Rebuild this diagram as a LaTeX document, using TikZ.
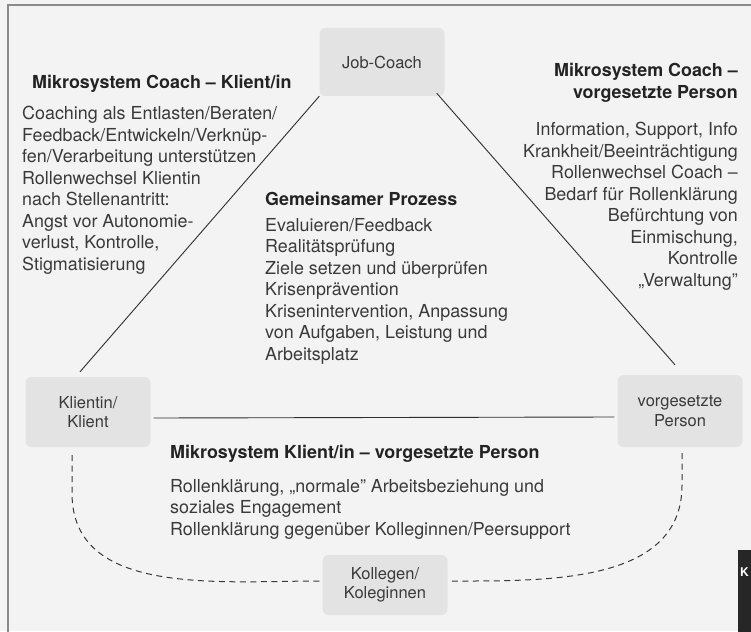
\documentclass[tikz,border=0pt]{standalone}
\usepackage{fontspec}
\setmainfont{TeX Gyre Heros}
\usetikzlibrary{positioning}

\definecolor{paper}{HTML}{F3F3F3}
\definecolor{boxgrey}{HTML}{E3E3E3}
\definecolor{inkgrey}{HTML}{3A3A3A}
\definecolor{headgrey}{HTML}{232323}
\definecolor{rulegrey}{HTML}{8A8A8A}

\newcommand\bodyfont{\fontsize{17.9}{21.5}\selectfont}
\newcommand\headfont{\fontsize{17.9}{22}\selectfont\bfseries}
\newcommand\boxfont{\fontsize{16.5}{19.5}\selectfont}

\tikzset{
  person/.style={fill=boxgrey, rounded corners=6pt, minimum width=125pt,
    minimum height=68pt, align=center, font=\boxfont, text=inkgrey},
  heading/.style={font=\headfont, text=headgrey, inner sep=0pt},
  body/.style={font=\bodyfont, text=inkgrey, inner sep=0pt},
  link/.style={draw=black!82, line width=0.9pt},
  peer/.style={draw=black!78, line width=1pt, dash pattern=on 6pt off 4.5pt}
}

\begin{document}
\begin{tikzpicture}[x=1pt, y=-1pt]
  \useasboundingbox (0,0) rectangle (751,631);
  \clip (0,0) rectangle (751,631);
  \fill[paper] (0,0) rectangle (751,631);
  \draw[rulegrey, line width=1.6pt] (8,660) -- (8,5) -- (780,5);

  % the four persons
  \node[person] (jobcoach) at (382,62) {Job-Coach};
  \node[person, minimum height=70pt] (klientin) at (88,412) {Klientin/\\Klient};
  \node[person, minimum height=72pt] (chef) at (680,411) {vorgesetzte\\Person};
  \node[person, minimum height=60pt] (kollegen) at (385,585) {Kollegen/\\Koleginnen};

  % triangle
  \draw[link] (jobcoach.south west) -- ([xshift=-8pt, yshift=5pt]klientin.north);
  \draw[link] ([xshift=-8pt, yshift=3pt]jobcoach.south east) -- ([xshift=-5pt, yshift=10pt]chef.north);
  \draw[link] ([xshift=3pt, yshift=-6pt]klientin.east) -- ([xshift=-3pt, yshift=-6pt]chef.west);

  % colleagues, dashed
  \draw[peer] ([xshift=-16pt, yshift=-8pt]klientin.south) -- ++(0,38)
    to[out=-90, in=180] ([xshift=-1pt, yshift=4pt]kollegen.west);
  \draw[peer] ([xshift=2pt, yshift=-6pt]chef.south) -- ++(0,32)
    to[out=-90, in=0] ([xshift=1pt, yshift=4pt]kollegen.east);

  % Coach -- Klient/in
  \node[heading, anchor=base west] (coachklient) at (32,89) {Mikrosystem Coach -- Klient/in};
  \node[body, anchor=north west, align=left] (coachklienttext) at (22,106) {%
    Coaching als Entlasten/Beraten/\\
    Feedback/Entwickeln/Verknüp-\\
    fen/Verarbeitung unterstützen\\
    Rollenwechsel Klientin\\
    nach Stellenantritt:\\
    Angst vor Autonomie-\\
    verlust, Kontrolle,\\
    Stigmatisierung};

  % Coach -- vorgesetzte Person
  \node[heading, anchor=north east, align=right] (coachchef) at (738,63) {%
    Mikrosystem Coach --\\vorgesetzte Person};
  \node[body, anchor=north east, align=right] (coachcheftext) at (738,122) {%
    Information, Support, Info\\
    Krankheit/Beeinträchtigung\\
    Rollenwechsel Coach --\\
    Bedarf für Rollenklärung\\
    Befürchtung von\\
    Einmischung,\\
    Kontrolle\\
    „Verwaltung"};

  % common process
  \node[heading, anchor=base west] (prozess) at (265,205) {Gemeinsamer Prozess};
  \node[body, anchor=north west, align=left] (prozesstext) at (265,218) {%
    Evaluieren/Feedback\\
    Realitätsprüfung\\
    Ziele setzen und überprüfen\\
    Krisenprävention\\
    Krisenintervention, Anpassung\\
    von Aufgaben, Leistung und\\
    Arbeitsplatz};

  % Klient/in -- vorgesetzte Person
  \node[heading, anchor=base west] (klientchef) at (170,458) {Mikrosystem Klient/in -- vorgesetzte Person};
  \node[body, anchor=north west, align=left] (klientcheftext) at (170,479) {%
    Rollenklärung, „normale" Arbeitsbeziehung und\\
    soziales Engagement\\
    Rollenklärung gegenüber Kolleginnen/Peersupport};

  % register tab at the page edge
  \fill[black!85] (738,550) rectangle (760,640);
  \node[font=\fontsize{12}{12}\selectfont\bfseries, text=white, anchor=base west, inner sep=0pt] (tab) at (740,576) {K};
\end{tikzpicture}
\end{document}
